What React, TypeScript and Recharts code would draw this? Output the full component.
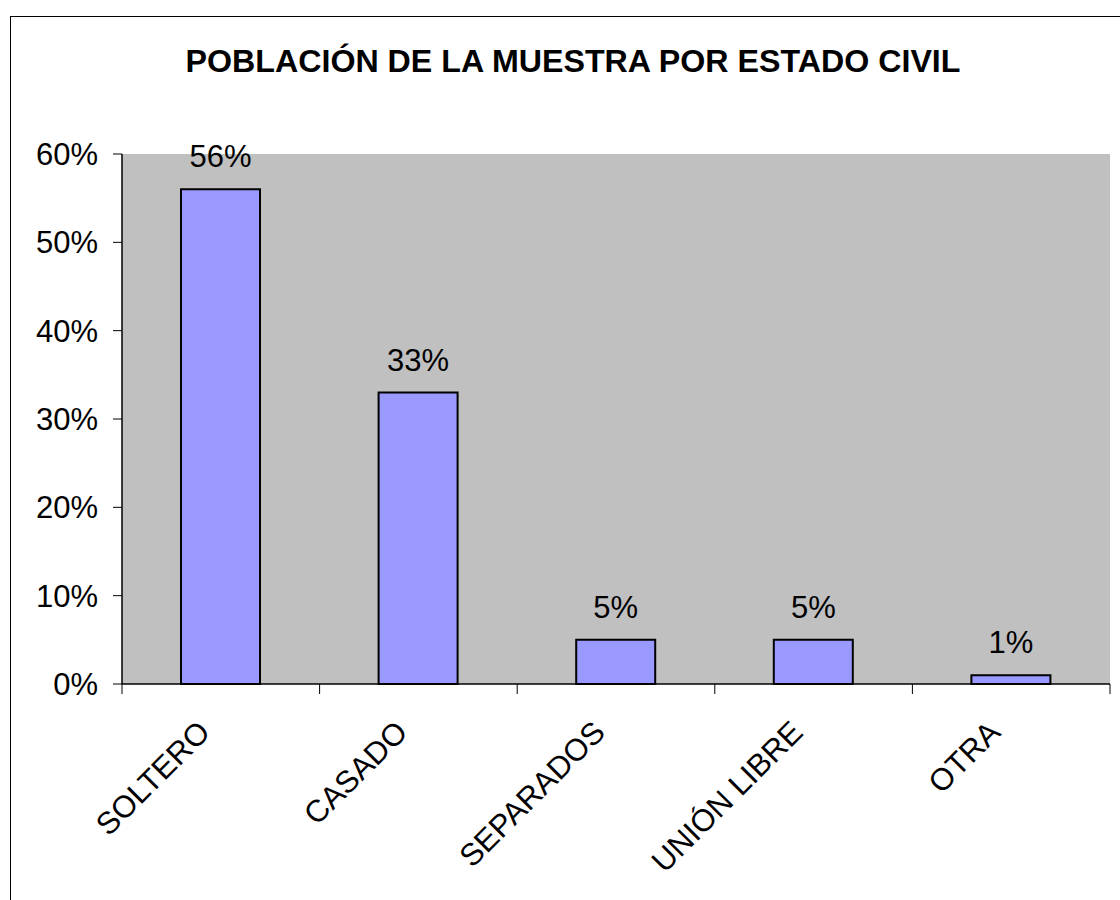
import { Bar, BarChart, CartesianGrid, LabelList, XAxis, YAxis } from "recharts";

const CATEGORIES = ["SOLTERO", "CASADO", "SEPARADOS", "UNIÓN LIBRE", "OTRA"];
const VALUES = [56, 33, 5, 5, 1];
const Y_TICKS = [0, 10, 20, 30, 40, 50, 60];
const TITLE = "POBLACIÓN DE LA MUESTRA POR ESTADO CIVIL";

const FONT = '"Liberation Sans", Arial, sans-serif';
const W = 1120;
const H = 900;
const Y_AXIS_W = 122;
const X_AXIS_H = 216;
const MARGIN = { top: 154, right: 10, bottom: 0, left: 0 };
const PLOT_W = W - Y_AXIS_W - MARGIN.right;

const data = CATEGORIES.map((name, i) => ({ name, value: VALUES[i] }));

function CategoryTick(props: any) {
  const { x, y, payload, index } = props;
  const band = PLOT_W / CATEGORIES.length;
  const lx = x - 9;
  const ly = y + 50;
  return (
    <g>
      <line x1={x - band / 2} x2={x - band / 2} y1={y} y2={y + 10} stroke="#000" />
      {index === CATEGORIES.length - 1 && (
        <line x1={x + band / 2} x2={x + band / 2} y1={y} y2={y + 10} stroke="#000" />
      )}
      <text
        x={lx}
        y={ly}
        textAnchor="end"
        transform={`rotate(-45 ${lx} ${ly})`}
        fontSize={31}
        fontFamily={FONT}
        fill="#000"
      >
        {payload.value}
      </text>
    </g>
  );
}

export default function App() {
  return (
    <div
      style={{
        position: "absolute",
        left: 0,
        top: 0,
        width: W,
        height: H,
        overflow: "hidden",
        background: "#fff",
        fontFamily: FONT,
      }}
    >
      <div
        style={{
          position: "absolute",
          left: 10,
          top: 16,
          width: 1200,
          height: 1000,
          border: "1px solid #000",
        }}
      />
      <div
        style={{
          position: "absolute",
          left: 0,
          top: 45,
          width: 1146,
          textAlign: "center",
          fontSize: 32.2,
          lineHeight: "32px",
          fontWeight: "bold",
          color: "#000",
        }}
      >
        {TITLE}
      </div>
      <div style={{ position: "absolute", left: 0, top: 0 }}>
        <BarChart width={W} height={H} data={data} margin={MARGIN}>
          <CartesianGrid horizontal={false} vertical={false} fill="#C0C0C0" fillOpacity={1} />
          <XAxis
            dataKey="name"
            height={X_AXIS_H}
            interval={0}
            tickLine={false}
            tickSize={0}
            tickMargin={0}
            axisLine={{ stroke: "#000", strokeWidth: 1.5 }}
            tick={<CategoryTick />}
          />
          <XAxis
            xAxisId="top"
            dataKey="name"
            orientation="top"
            height={0}
            tick={false}
            tickLine={false}
            axisLine={{ stroke: "#808080", strokeWidth: 1.5 }}
          />
          <YAxis
            width={Y_AXIS_W}
            domain={[0, 60]}
            ticks={Y_TICKS}
            interval={0}
            tickFormatter={(v) => `${v}%`}
            tickSize={9}
            tickMargin={15}
            tickLine={{ stroke: "#000" }}
            axisLine={{ stroke: "#000", strokeWidth: 1.5 }}
            tick={{ fontSize: 31, fontFamily: FONT, fill: "#000" }}
          />
          <YAxis
            yAxisId="right"
            orientation="right"
            width={0}
            domain={[0, 60]}
            tick={false}
            tickLine={false}
            axisLine={{ stroke: "#808080", strokeWidth: 1.5 }}
          />
          <Bar
            dataKey="value"
            fill="#9999FF"
            stroke="#000"
            strokeWidth={2}
            barSize={79}
            isAnimationActive={false}
          >
            <LabelList
              dataKey="value"
              position="top"
              offset={22}
              formatter={(v: any) => `${v}%`}
              fill="#000"
              fontSize={31}
              fontFamily={FONT}
            />
          </Bar>
        </BarChart>
      </div>
    </div>
  );
}
